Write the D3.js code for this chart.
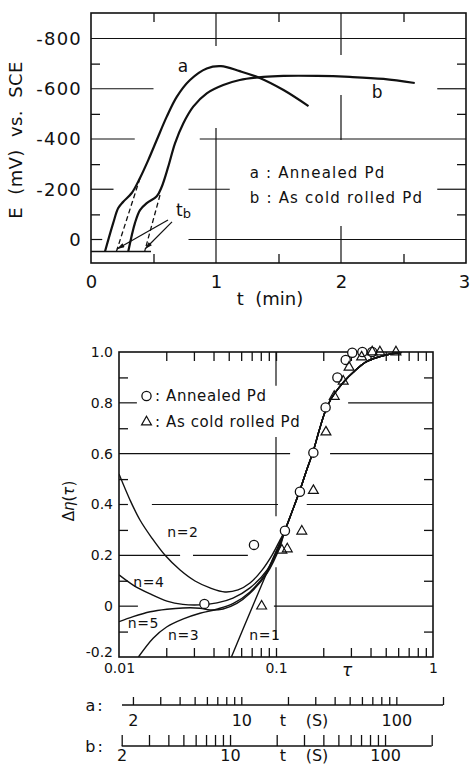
<!DOCTYPE html>
<html>
<head>
<meta charset="utf-8">
<script src="https://cdn.jsdelivr.net/npm/d3@7"></script>
<style>
  body { margin: 0; background: #fff; }
  text { font-family: "DejaVu Sans", sans-serif; fill: #111; }
</style>
</head>
<body>
<svg id="fig" width="470" height="764"></svg>
<script>
// ---- top panel: E (mV vs. SCE) against t (min)
const curveA = [[0.112, 48], [0.178, -66], [0.218, -125], [0.258, -150], [0.326, -185], [0.392, -245], [0.458, -316], [0.526, -396], [0.606, -489], [0.686, -568], [0.792, -635], [0.926, -681], [1.04, -690], [1.19, -670], [1.35, -643], [1.54, -595], [1.74, -531]]
const curveB = [[0.298, 48], [0.352, -66], [0.392, -117], [0.446, -145], [0.526, -172], [0.566, -210], [0.618, -290], [0.672, -383], [0.738, -462], [0.818, -529], [0.926, -582], [1.058, -615], [1.19, -635], [1.38, -647], [1.54, -651], [1.81, -651], [2.07, -647], [2.34, -639], [2.59, -623]]
const restLevel = [[0, 48], [0.48, 48]]
const tangentA = [[0.392, -244], [0.203, 48]]
const tangentB = [[0.552, -177], [0.429, 48]]
const tbArrows = [[[0.616, -78], [0.208, 38]], [[0.648, -70], [0.432, 38]]]
const eTicks = [0, -200, -400, -600, -800]
const eMinor = [-100, -300, -500, -700]
const tTicks = [0, 1, 2, 3]
const tMinor = [0.5, 1.5, 2.5]

// ---- bottom panel: delta eta against tau
const fitN1 = [[0.052, -0.2], [0.071, 0], [0.09, 0.15]]
const fitN2 = [[0.01, 0.52], [0.01175, 0.418], [0.0136, 0.339], [0.0162, 0.268], [0.0196, 0.201], [0.0245, 0.142], [0.0305, 0.099], [0.038, 0.072], [0.0473, 0.056], [0.0573, 0.064], [0.0683, 0.091], [0.0815, 0.142], [0.0944, 0.201], [0.106, 0.26]]
const fitN3 = [[0.0133, -0.2], [0.0165, -0.126], [0.0201, -0.082], [0.0257, -0.05], [0.0328, -0.028], [0.0419, -0.012], [0.0535, 0.011], [0.0683, 0.056], [0.0873, 0.135], [0.106, 0.241]]
const fitN4 = [[0.01, 0.123], [0.0123, 0.083], [0.0158, 0.048], [0.0202, 0.02], [0.0255, 0.007], [0.0328, 0.005], [0.0421, 0.013], [0.0532, 0.032], [0.0683, 0.072], [0.0876, 0.142], [0.1014, 0.217]]
const fitN5 = [[0.01, -0.061], [0.0123, -0.041], [0.0158, -0.022], [0.0202, -0.012], [0.0255, -0.007], [0.0328, -0.008], [0.038, -0.015], [0.046, -0.011], [0.0563, 0.011], [0.0683, 0.051], [0.0876, 0.129], [0.106, 0.234]]
const fitUpper = [[0.114, 0.298], [0.1264, 0.371], [0.1411, 0.451], [0.1553, 0.528], [0.1721, 0.607], [0.1879, 0.689], [0.2052, 0.764], [0.224, 0.815], [0.2483, 0.855], [0.2751, 0.888], [0.3094, 0.919], [0.3744, 0.961], [0.4597, 0.982], [0.5563, 0.994], [0.6346, 0.999]]
const annealed = [[0.035, 0.009], [0.0724, 0.241], [0.114, 0.297], [0.142, 0.45], [0.173, 0.604], [0.207, 0.782], [0.246, 0.9], [0.278, 0.969], [0.306, 0.997], [0.355, 1.0], [0.41, 1.0]]
const coldRolled = [[0.081, 0.0], [0.109, 0.22], [0.118, 0.225], [0.146, 0.295], [0.173, 0.455], [0.208, 0.685], [0.235, 0.825], [0.268, 0.885], [0.292, 0.94], [0.351, 0.98], [0.41, 1.0], [0.459, 1.0], [0.581, 1.0]]
const fitLabels = [['n=2', 0.0255, 0.29], ['n=4', 0.0155, 0.095], ['n=5', 0.0143, -0.065], ['n=3', 0.0258, -0.112], ['n=1', 0.085, -0.112]]
const dTicks = [-0.2, 0, 0.2, 0.4, 0.6, 0.8, 1.0]
const dMinor = [-0.1, 0.1, 0.3, 0.5, 0.7, 0.9]
const tauTicks = [0.01, 0.1, 1]
const tauMinor = [0.02, 0.03, 0.04, 0.05, 0.06, 0.07, 0.08, 0.09, 0.1, 0.2, 0.3, 0.4, 0.5, 0.6, 0.7, 0.8, 0.9]

// ---- t (s) scales under the tau axis, a: annealed, b: cold rolled
const secA = [1.7, 200]
const secB = [2, 200]
const secTicks = [2, 3, 4, 5, 6, 7, 8, 9, 10, 20, 30, 40, 50, 60, 70, 80, 90, 100, 200]
const secLabels = [2, 10, 100]

const ink = '#111'
const svg = d3.select('#fig')
const defs = svg.append('defs')

defs.append('marker')
  .attr('id', 'head')
  .attr('viewBox', '0 0 10 6')
  .attr('refX', 10)
  .attr('refY', 3)
  .attr('markerWidth', 9)
  .attr('markerHeight', 4.5)
  .attr('markerUnits', 'userSpaceOnUse')
  .attr('orient', 'auto')
  .append('path')
  .attr('d', 'M0,0 L10,3 L0,6 Z')
  .attr('fill', ink)

function clipFor (id, b) {
  defs.append('clipPath').attr('id', id)
    .append('rect')
    .attr('x', b.x0).attr('y', b.y0)
    .attr('width', b.x1 - b.x0).attr('height', b.y1 - b.y0)
}

function tidy (g, size) {
  g.attr('font-family', '"DejaVu Sans", sans-serif')
    .attr('font-size', size)
    .attr('color', ink)
  g.select('.domain').remove()
  g.selectAll('line').attr('stroke-width', 1.3)
  return g
}

function gridSegments (g, rows, horizontal, x, y, cls) {
  const segs = rows.flatMap(r => r.seg.map(s => ({ v: r.v, s })))
  g.selectAll(`.${cls}`)
    .data(segs)
    .join('line')
    .attr('class', cls)
    .attr('x1', d => horizontal ? x(d.s[0]) : x(d.v))
    .attr('x2', d => horizontal ? x(d.s[1]) : x(d.v))
    .attr('y1', d => horizontal ? y(d.v) : y(d.s[0]))
    .attr('y2', d => horizontal ? y(d.v) : y(d.s[1]))
    .attr('stroke', ink)
    .attr('stroke-width', 1.2)
}

// =================== top panel ===================
const boxT = { x0: 91, x1: 466, y0: 13, y1: 263 }
const xT = d3.scaleLinear().domain([0, 3]).range([boxT.x0, boxT.x1])
const yT = d3.scaleLinear().domain([0, -800]).range([239.5, 38.5])
clipFor('clipT', boxT)

const gridT = svg.append('g').attr('clip-path', 'url(#clipT)')
gridSegments(gridT, [
  { v: -800, seg: [[0, 3]] },
  { v: -600, seg: [[0, 0.5], [2.77, 3]] },
  { v: -400, seg: [[0, 0.35], [0.87, 3]] },
  { v: -200, seg: [[0, 0.18], [0.78, 1.11], [2.77, 3]] },
  { v: 0, seg: [[0, 0.09], [0.78, 3]] }
], true, xT, yT, 'hg')
gridSegments(gridT, [
  { v: 1, seg: [[-950, -770], [-444, 150]] },
  { v: 2, seg: [[-950, -734], [-575, -396], [-54, 150]] }
], false, xT, yT, 'vg')

tidy(svg.append('g').attr('transform', `translate(${boxT.x0},0)`)
  .call(d3.axisLeft(yT).tickValues(eMinor).tickSize(-9).tickFormat('')), 10)
tidy(svg.append('g').attr('transform', `translate(${boxT.x1},0)`)
  .call(d3.axisRight(yT).tickValues(eMinor).tickSize(-9).tickFormat('')), 10)
tidy(svg.append('g').attr('transform', `translate(0,${boxT.y1})`)
  .call(d3.axisBottom(xT).tickValues(tMinor).tickSize(-9).tickFormat('')), 10)
tidy(svg.append('g').attr('transform', `translate(0,${boxT.y0})`)
  .call(d3.axisTop(xT).tickValues(tMinor).tickSize(-9).tickFormat('')), 10)

tidy(svg.append('g').attr('transform', `translate(${boxT.x0},0)`)
  .call(d3.axisLeft(yT).tickValues(eTicks).tickSize(0).tickPadding(9).tickFormat(d => String(d))), 18)
  .selectAll('text').attr('letter-spacing', 1.2)
const tLab = tidy(svg.append('g').attr('transform', `translate(0,${boxT.y1})`)
  .call(d3.axisBottom(xT).tickValues(tTicks).tickSize(0).tickPadding(12).tickFormat(d => String(d))), 18)
tLab.selectAll('.tick').filter(d => d === 3).select('text').attr('dx', -2)

svg.append('rect')
  .attr('x', boxT.x0).attr('y', boxT.y0)
  .attr('width', boxT.x1 - boxT.x0).attr('height', boxT.y1 - boxT.y0)
  .attr('fill', 'none').attr('stroke', ink).attr('stroke-width', 1.6)

const lineT = d3.line().x(d => xT(d[0])).y(d => yT(d[1])).curve(d3.curveCatmullRom.alpha(0.5))
const plotT = svg.append('g').attr('clip-path', 'url(#clipT)')
plotT.selectAll('.pot')
  .data([curveA, curveB])
  .join('path')
  .attr('class', 'pot')
  .attr('d', lineT)
  .attr('fill', 'none').attr('stroke', ink).attr('stroke-width', 2.2)
plotT.append('path')
  .attr('d', d3.line().x(d => xT(d[0])).y(d => yT(d[1]))(restLevel))
  .attr('stroke', ink).attr('stroke-width', 1.5)
plotT.selectAll('.tan')
  .data([tangentA, tangentB])
  .join('path')
  .attr('class', 'tan')
  .attr('d', d3.line().x(d => xT(d[0])).y(d => yT(d[1])))
  .attr('stroke', ink).attr('stroke-width', 1.3).attr('stroke-dasharray', '5,3')
plotT.selectAll('.arr')
  .data(tbArrows)
  .join('path')
  .attr('class', 'arr')
  .attr('d', d3.line().x(d => xT(d[0])).y(d => yT(d[1])))
  .attr('stroke', ink).attr('stroke-width', 1.2)
  .attr('marker-end', 'url(#head)')

svg.append('text').attr('x', xT(0.735)).attr('y', yT(-690)).attr('dy', '0.35em')
  .attr('text-anchor', 'middle').attr('font-size', 17).text('a')
svg.append('text').attr('x', xT(2.29)).attr('y', yT(-585)).attr('dy', '0.35em')
  .attr('text-anchor', 'middle').attr('font-size', 17).text('b')
const tb = svg.append('text').attr('x', xT(0.68)).attr('y', yT(-95)).attr('font-size', 17)
tb.append('tspan').text('t')
tb.append('tspan').attr('font-size', 13).attr('dy', 2).text('b')

svg.append('text').attr('x', xT(1.27)).attr('y', yT(-245))
  .attr('font-size', 15).attr('letter-spacing', 1.2).text('a : Annealed Pd')
svg.append('text').attr('x', xT(1.27)).attr('y', yT(-145))
  .attr('font-size', 15).attr('letter-spacing', 1.2).text('b : As cold rolled Pd')

svg.append('text')
  .attr('transform', `translate(22,${(boxT.y0 + boxT.y1) / 2 + 2}) rotate(-90)`)
  .attr('text-anchor', 'middle').attr('font-size', 18).attr('letter-spacing', 0.4)
  .style('white-space', 'pre')
  .text('E  (mV)  vs.  SCE')
svg.append('text')
  .attr('x', 270).attr('y', 305)
  .attr('text-anchor', 'middle').attr('font-size', 18)
  .style('white-space', 'pre')
  .text('t  (min)')

// =================== bottom panel ===================
const boxB = { x0: 119, x1: 433, y0: 352, y1: 657 }
const xB = d3.scaleLog().domain([0.01, 1]).range([boxB.x0, boxB.x1])
const yB = d3.scaleLinear().domain([-0.2, 1]).range([boxB.y1, boxB.y0])
clipFor('clipB', boxB)

const gridB = svg.append('g').attr('clip-path', 'url(#clipB)')
gridSegments(gridB, [
  { v: 0.8, seg: [[0.01, 0.013], [0.288, 1]] },
  { v: 0.6, seg: [[0.01, 0.123], [0.221, 1]] },
  { v: 0.4, seg: [[0.01, 0.0114], [0.0162, 0.103], [0.157, 1]] },
  { v: 0.2, seg: [[0.01, 0.0245], [0.0296, 0.0662], [0.157, 1]] },
  { v: 0, seg: [[0.01, 0.0132], [0.097, 1]] }
], true, xB, yB, 'hgb')
gridSegments(gridB, [
  { v: 0.1, seg: [[-0.13, 0.153], [0.354, 0.666], [0.867, 1.05]] }
], false, xB, yB, 'vgb')

tidy(svg.append('g').attr('transform', `translate(${boxB.x0},0)`)
  .call(d3.axisLeft(yB).tickValues(dMinor).tickSize(-9).tickFormat('')), 10)
tidy(svg.append('g').attr('transform', `translate(${boxB.x1},0)`)
  .call(d3.axisRight(yB).tickValues(dMinor).tickSize(-9).tickFormat('')), 10)
tidy(svg.append('g').attr('transform', `translate(0,${boxB.y1})`)
  .call(d3.axisBottom(xB).tickValues(tauMinor).tickSize(-9).tickFormat('')), 10)
tidy(svg.append('g').attr('transform', `translate(0,${boxB.y0})`)
  .call(d3.axisTop(xB).tickValues(tauMinor).tickSize(-9).tickFormat('')), 10)

const yLab = tidy(svg.append('g').attr('transform', `translate(${boxB.x0},0)`)
  .call(d3.axisLeft(yB).tickValues(dTicks).tickSize(0).tickPadding(6)
    .tickFormat(d => d === 0 ? '0' : (d === 1 ? '1.0' : String(d)))), 14)
yLab.selectAll('.tick').filter(d => d === -0.2).select('text').attr('dy', '-0.05em')
tidy(svg.append('g').attr('transform', `translate(0,${boxB.y1})`)
  .call(d3.axisBottom(xB).tickValues(tauTicks).tickSize(0).tickPadding(6).tickFormat(d => String(d))), 14)

svg.append('rect')
  .attr('x', boxB.x0).attr('y', boxB.y0)
  .attr('width', boxB.x1 - boxB.x0).attr('height', boxB.y1 - boxB.y0)
  .attr('fill', 'none').attr('stroke', ink).attr('stroke-width', 1.6)

const lineB = d3.line().x(d => xB(d[0])).y(d => yB(d[1])).curve(d3.curveCatmullRom.alpha(0.5))
const plotB = svg.append('g').attr('clip-path', 'url(#clipB)')
plotB.selectAll('.fit')
  .data([fitN1, fitN2, fitN3, fitN4, fitN5].map(f => f.concat(fitUpper)))
  .join('path')
  .attr('class', 'fit')
  .attr('d', lineB)
  .attr('fill', 'none').attr('stroke', ink).attr('stroke-width', 1.4)

const tri = d3.symbol(d3.symbolTriangle, 42)
svg.selectAll('.ann')
  .data(annealed)
  .join('circle')
  .attr('class', 'ann')
  .attr('cx', d => xB(d[0])).attr('cy', d => yB(d[1])).attr('r', 4.6)
  .attr('fill', '#fff').attr('stroke', ink).attr('stroke-width', 1.3)
svg.selectAll('.cold')
  .data(coldRolled)
  .join('path')
  .attr('class', 'cold')
  .attr('transform', d => `translate(${xB(d[0])},${yB(d[1])})`)
  .attr('d', tri)
  .attr('fill', 'none').attr('stroke', ink).attr('stroke-width', 1.2)

svg.selectAll('.nlab')
  .data(fitLabels)
  .join('text')
  .attr('class', 'nlab')
  .attr('x', d => xB(d[1])).attr('y', d => yB(d[2]))
  .attr('dy', '0.35em').attr('text-anchor', 'middle')
  .attr('font-size', 14).attr('letter-spacing', 0.6)
  .text(d => d[0])

// legend
const legB = svg.append('g')
legB.append('circle').attr('cx', 146.5).attr('cy', 396).attr('r', 4.6)
  .attr('fill', 'none').attr('stroke', ink).attr('stroke-width', 1.3)
legB.append('path').attr('transform', 'translate(146.5,422)').attr('d', tri)
  .attr('fill', 'none').attr('stroke', ink).attr('stroke-width', 1.2)
legB.selectAll('.lt')
  .data([['Annealed Pd', 396], ['As cold rolled Pd', 422]])
  .join('text')
  .attr('class', 'lt')
  .attr('x', 155).attr('y', d => d[1]).attr('dy', '0.36em')
  .attr('font-size', 15).attr('letter-spacing', 0.6)
  .text(d => ': ' + d[0])

svg.append('text').attr('x', 347).attr('y', 676)
  .attr('text-anchor', 'middle').attr('font-size', 17).attr('font-style', 'italic').text('τ')
svg.append('text')
  .attr('transform', 'translate(74,501) rotate(-90)')
  .attr('text-anchor', 'middle').attr('font-size', 15)
  .html('Δ<tspan font-style="italic">η</tspan>(<tspan font-style="italic">τ</tspan>)')

// secondary t (s) axes
const xSa = d3.scaleLog().domain(secA).range([122, 443])
const xSb = d3.scaleLog().domain(secB).range([121.7, 431.7])
const secRows = [['a:', xSa, secA, 705, 8, 21], ['b:', xSb, secB, 746, 11, 15]]
secRows.forEach(([name, sc, ext, yy, len, lab]) => {
  const g = svg.append('g').attr('transform', `translate(0,${yy})`)
    .call(d3.axisBottom(sc).tickValues(secTicks).tickSize(-len).tickSizeOuter(0).tickPadding(0)
      .tickFormat(d => secLabels.includes(d) ? String(d) : ''))
  g.attr('font-family', '"DejaVu Sans", sans-serif').attr('font-size', 16).attr('color', ink)
  g.select('.domain').remove()
  g.selectAll('line').attr('stroke-width', 1.3)
  g.selectAll('.tick text').attr('y', lab).attr('dy', 0)
  g.append('line')
    .attr('x1', sc(ext[0])).attr('x2', sc(ext[1]))
    .attr('stroke', ink).attr('stroke-width', 1.4)
  g.append('text').attr('x', 95).attr('y', 0).attr('dy', '0.35em')
    .attr('text-anchor', 'middle').attr('font-size', 16).attr('letter-spacing', 2).text(name)
  g.append('text').attr('x', 283).attr('y', lab)
    .attr('text-anchor', 'middle').attr('font-size', 16).text('t')
  g.append('text').attr('x', 317).attr('y', lab)
    .attr('text-anchor', 'middle').attr('font-size', 16).text('(S)')
})
</script>
</body>
</html>
